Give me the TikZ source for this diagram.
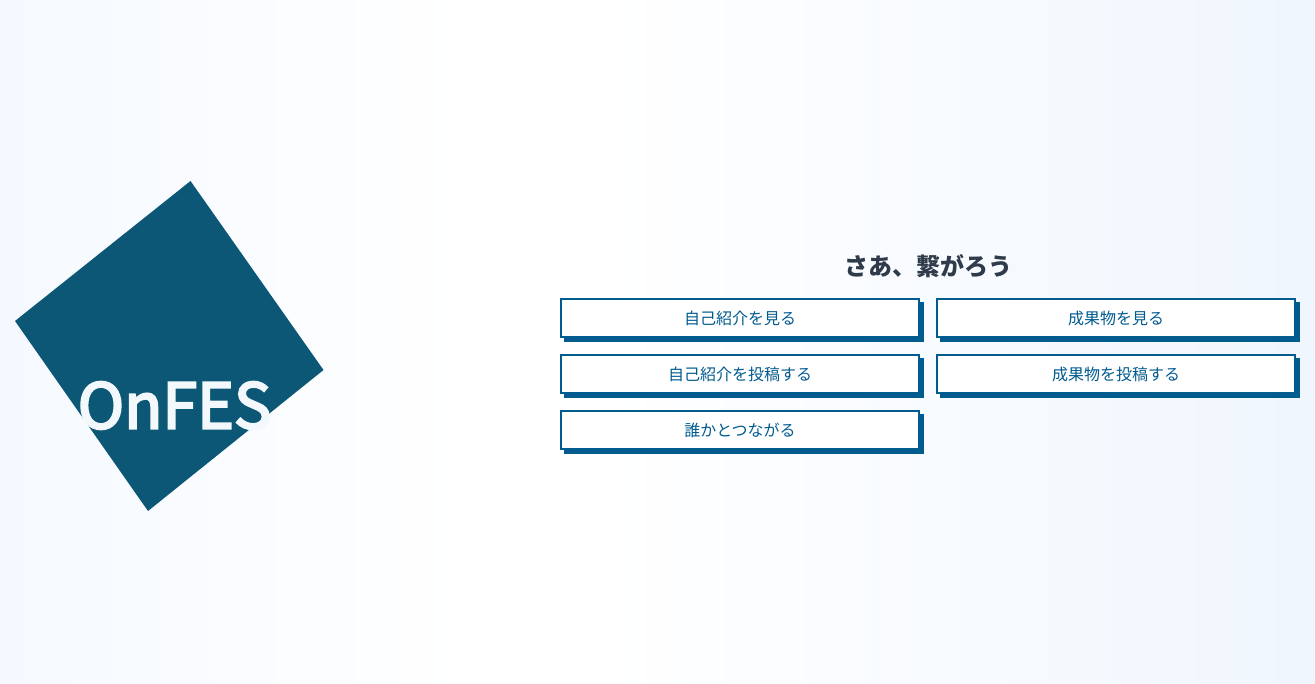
\documentclass[tikz,border=0pt]{standalone}
\usepackage{fontspec}
\setmainfont{Noto Sans CJK JP}
\newfontfamily\logofont[FakeBold=3.5]{Noto Sans CJK JP}
\usetikzlibrary{shadows}

\definecolor{btnblue}{HTML}{005B8F}
\definecolor{logoblue}{HTML}{0B5775}
\definecolor{logotint}{HTML}{F3F8FC}
\definecolor{headgray}{HTML}{2F3B4B}
\definecolor{bgleft}{HTML}{F5F9FF}
\definecolor{bgright}{HTML}{F0F6FE}
\pgfdeclarehorizontalshading{bgshade}{100bp}{color(0bp)=(bgleft); color(25bp)=(bgleft); color(43bp)=(white); color(48bp)=(white); color(75bp)=(bgright); color(100bp)=(bgright)}

\begin{document}
\begin{tikzpicture}[x=.75pt,y=-.75pt,
    btn/.style={draw=btnblue,line width=1.5pt,fill=white,text=btnblue,
      minimum width=268.5pt,minimum height=28.5pt,inner sep=0pt,font=\fontsize{12}{14}\selectfont,
      general shadow={shadow xshift=3pt,shadow yshift=-3pt,fill=btnblue,draw=btnblue,line width=1.5pt}},
    heading/.style={text=headgray,font=\fontsize{18}{22}\selectfont\bfseries,inner sep=0pt},
    logotext/.style={text=logotint,font=\logofont\fontsize{47}{54}\selectfont,inner sep=0pt}]

        \useasboundingbox (0,0) rectangle (1315,684) ;
        \shade [shading=bgshade] (0,0) rectangle (1315,684) ;

        \coordinate (logotop) at (190.5,181) ;
        \coordinate (logoright) at (323.5,370) ;
        \coordinate (logobottom) at (148,511) ;
        \coordinate (logoleft) at (15,321) ;
        \fill [logoblue] (logotop) -- (logoright) -- (logobottom) -- (logoleft) -- cycle ;
        \node [logotext] (logoname) at (174.5,405.5) {OnFES} ;

        \node [heading] (title) at (928,266) {さあ、繋がろう} ;

        \node [btn] (seeintro) at (740,318) {自己紹介を見る} ;
        \node [btn] (seework) at (1116,318) {成果物を見る} ;
        \node [btn] (postintro) at (740,374) {自己紹介を投稿する} ;
        \node [btn] (postwork) at (1116,374) {成果物を投稿する} ;
        \node [btn] (connect) at (740,430) {誰かとつながる} ;

      \end{tikzpicture}
\end{document}
